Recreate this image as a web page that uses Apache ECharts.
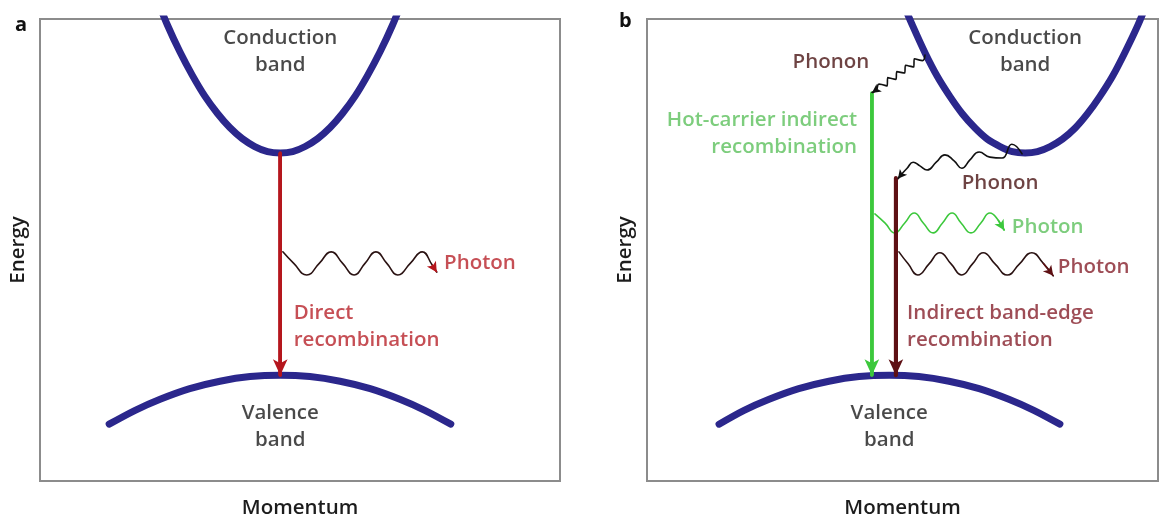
<!DOCTYPE html>
<html><head><meta charset="utf-8">
<script src="https://cdn.jsdelivr.net/npm/echarts/dist/echarts.min.js"></script>
<style>html,body{margin:0;padding:0;background:#fff}#c{width:1166px;height:517px}</style>
</head><body><div id="c"></div>
<script>
// ---------- data (panel units: momentum 0-100, energy 0-100) ----------
const panelLabels = ['a', 'b'];
const xName = 'Momentum';
const yName = 'Energy';

// Panel a
const conductionA = [[22.1,105.3],[24.5,98.7],[26.9,92.9],[29.3,87.8],[31.7,83.3],[34.1,79.6],[36.5,76.5],[38.9,74.1],[41.3,72.4],[43.75,71.3],[46.2,71.0],[48.6,71.3],[51.0,72.4],[53.4,74.1],[55.8,76.5],[58.2,79.6],[60.6,83.3],[63.0,87.8],[65.4,92.9],[67.8,98.7],[70.2,105.3]];
const valenceA = [[13.3,12.3],[18.3,15.3],[23.1,17.7],[28.8,20.0],[34.6,21.6],[40.4,22.6],[46.2,22.9],[51.9,22.6],[57.7,21.6],[63.5,20.0],[69.2,17.7],[74.0,15.3],[79.0,12.3]];
const directArrowA = [[46.2,71.0],[46.2,22.9]];
const photonA = [[46.7,49.6],[48.8,47.1],[51.3,44.6],[53.7,47.1],[56.0,49.6],[58.2,47.1],[60.4,44.6],[62.5,47.1],[64.6,49.6],[66.7,47.1],[68.8,44.6],[71.2,47.1],[73.5,49.6],[75.4,46.8],[76.3,45.2]];
const textsA = [
  ['Conduction\nband', 46.2, 93.0, 'center', 'dark'],
  ['Valence\nband', 46.2, 11.8, 'center', 'dark'],
  ['Direct\nrecombination', 48.8, 33.4, 'left', 'red'],
  ['Photon', 77.7, 47.2, 'left', 'red']
];

// Panel b
const conductionB = [[49.5,104.9],[52.0,98.5],[54.4,92.7],[56.8,87.6],[59.3,83.2],[61.7,79.5],[64.2,76.4],[66.6,74.0],[69.1,72.4],[71.5,71.3],[74.0,71.0],[76.4,71.3],[78.9,72.4],[81.3,74.0],[83.8,76.4],[86.2,79.5],[88.6,83.2],[91.1,87.6],[93.5,92.7],[96.0,98.5],[98.4,104.9]];
const valenceB = [[14.1,12.3],[19.0,15.3],[23.9,17.7],[29.7,20.0],[35.6,21.6],[41.5,22.6],[47.4,22.9],[53.2,22.6],[59.1,21.6],[65.0,20.0],[70.8,17.7],[75.7,15.3],[80.8,12.3]];
const hotArrowB = [[44.0,84.0],[44.0,22.9]];
const edgeArrowB = [[48.7,65.6],[48.7,22.9]];
const phononHotB = [[54.4,92.2],[53.9,91.0],[52.3,91.4],[52.2,89.6],[50.6,90.0],[50.4,88.3],[48.9,88.6],[48.7,86.9],[47.1,87.3],[47.0,85.5],[45.4,85.9],[44.9,84.7],[44.0,84.0]];
const phononEdgeB = [[73.4,70.8],[71.4,72.9],[69.5,69.9],[67.1,70.1],[65.0,71.2],[63.2,69.5],[61.6,67.7],[60.1,69.3],[58.3,70.6],[56.6,69.0],[54.8,67.3],[53.4,68.2],[52.1,69.0],[50.9,67.7],[49.9,66.5],[49.1,65.4]];
const photonHotB = [[44.6,57.8],[46.6,55.8],[48.5,53.7],[50.4,55.8],[52.3,58.0],[54.1,55.8],[56.0,53.7],[57.8,55.8],[59.7,58.0],[61.5,55.8],[63.4,53.7],[65.3,55.8],[67.1,58.0],[68.7,56.5],[69.9,54.3]];
const photonEdgeB = [[49.3,49.6],[51.1,47.0],[53.0,44.6],[55.2,47.0],[57.3,49.4],[59.5,47.0],[61.6,44.6],[63.7,47.0],[65.8,49.4],[68.1,47.0],[70.5,44.6],[72.9,47.0],[75.3,49.4],[77.5,47.2],[79.5,44.4]];
const textsB = [
  ['Conduction\nband', 74.0, 93.0, 'center', 'dark'],
  ['Phonon', 36.0, 90.7, 'center', 'brown'],
  ['Hot-carrier indirect\nrecombination', 41.1, 75.2, 'right', 'green'],
  ['Phonon', 69.1, 64.5, 'center', 'brown'],
  ['Photon', 71.4, 55.0, 'left', 'green'],
  ['Photon', 80.4, 46.3, 'left', 'maroonText'],
  ['Indirect band-edge\nrecombination', 50.9, 33.4, 'left', 'maroonText'],
  ['Valence\nband', 47.4, 11.8, 'center', 'dark']
];

// ---------- styles ----------
const C = {
  band: '#2b278c', red: '#b5161d', redText: '#b8232b', dark: '#1c1c1c',
  wave: '#2a1212', green: '#3cc83c', greenText: '#5cc05c', maroon: '#5e1014',
  brown: '#4a1414', maroonText: '#86202c', frame: '#8c8c8c'
};
const textColor = {dark: C.dark, red: C.redText, brown: C.brown, green: C.greenText, maroonText: C.maroonText};
const FONT = '"Open Sans", sans-serif';
const FS = 20.5;
const FW = 600;

function curve(i, data, color, width, smooth, z) {
  return {type: 'line', xAxisIndex: i, yAxisIndex: i, data: data, symbol: 'none', smooth: smooth,
    lineStyle: {color: color, width: width, cap: 'round'}, silent: true, animation: false, z: z || 2};
}
function withHead(s, data, color, width, head) {
  const n = data.length;
  s.markLine = {silent: true, animation: false, symbol: ['none', 'arrow'], symbolSize: head,
    label: {show: false}, lineStyle: {color: color, width: width, type: 'solid'},
    data: [[{coord: data[n - 2]}, {coord: data[n - 1]}]]};
  return s;
}
function arrow(i, data, color, width, head, z) {
  return withHead(curve(i, data, color, width, false, z), data, color, width, head);
}
function waveArrow(i, data, color, headColor, width, head, z) {
  return withHead(curve(i, data, color, width, 0.5, z), data, headColor, width, head);
}
function texts(i, list) {
  return {type: 'scatter', xAxisIndex: i, yAxisIndex: i, symbolSize: 1, silent: true, animation: false, z: 5,
    itemStyle: {color: 'rgba(0,0,0,0)'},
    data: list.map(t => ({value: [t[1], t[2]], label: {show: true, position: 'inside', formatter: t[0],
      align: t[3], verticalAlign: 'middle', color: textColor[t[4]], fontFamily: FONT, fontSize: FS,
      fontWeight: FW, lineHeight: 27}}))};
}

const grids = [
  {left: 40, top: 19, width: 520, height: 462},
  {left: 647, top: 19, width: 511, height: 462}
].map(g => Object.assign(g, {show: true, borderColor: C.frame, borderWidth: 2, backgroundColor: '#fff',
  containLabel: false, outerBoundsMode: 'none'}));

function xa(i) {
  return {type: 'value', gridIndex: i, min: 0, max: 100, name: xName, nameLocation: 'middle', nameGap: 17,
    nameTextStyle: {fontFamily: FONT, fontSize: FS, fontWeight: FW, color: C.dark},
    axisLine: {show: false}, axisTick: {show: false}, axisLabel: {show: false}, splitLine: {show: false}};
}
function ya(i) {
  return {type: 'value', gridIndex: i, min: 0, max: 100, name: yName, nameLocation: 'middle', nameGap: 11,
    nameTextStyle: {fontFamily: FONT, fontSize: FS, fontWeight: FW, color: C.dark},
    axisLine: {show: false}, axisTick: {show: false}, axisLabel: {show: false}, splitLine: {show: false}};
}

const option = {
  animation: false,
  title: [
    {text: panelLabels[0], left: 10, top: 10, textStyle: {fontFamily: FONT, fontSize: 20, fontWeight: 'bold', color: '#111'}},
    {text: panelLabels[1], left: 614, top: 6, textStyle: {fontFamily: FONT, fontSize: 20, fontWeight: 'bold', color: '#111'}}
  ],
  grid: grids,
  xAxis: [xa(0), xa(1)],
  yAxis: [ya(0), ya(1)],
  series: [
    curve(0, conductionA, C.band, 7, 0.3, 3),
    curve(0, valenceA, C.band, 7, 0.3, 3),
    arrow(0, directArrowA, C.red, 3.5, [11, 16], 4),
    waveArrow(0, photonA, C.wave, C.red, 1.6, [8, 10], 4),
    texts(0, textsA),

    curve(1, conductionB, C.band, 7, 0.3, 3),
    curve(1, valenceB, C.band, 7, 0.3, 3),
    arrow(1, hotArrowB, C.green, 3.5, [11, 16], 4),
    arrow(1, edgeArrowB, C.maroon, 4, [11, 16], 4),
    waveArrow(1, phononHotB, '#111', '#111', 1.6, [7, 9], 4),
    waveArrow(1, phononEdgeB, '#111', '#111', 1.6, [7, 9], 4),
    waveArrow(1, photonHotB, C.green, C.green, 1.6, [8, 10], 4),
    waveArrow(1, photonEdgeB, C.wave, C.maroon, 1.6, [8, 10], 4),
    texts(1, textsB)
  ]
};
const chart = echarts.init(document.getElementById('c'), null, {renderer: 'canvas'});
chart.setOption(option);
</script>
</body></html>
